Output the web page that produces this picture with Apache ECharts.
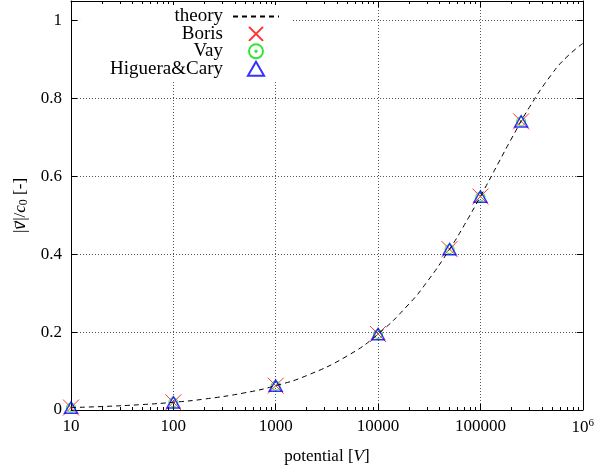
<!DOCTYPE html>
<html>
<head>
<meta charset="utf-8">
<script src="https://cdn.jsdelivr.net/npm/echarts@6/dist/echarts.min.js"></script>
<style>
  html,body{margin:0;padding:0;background:#fff;}
  #chart{width:597px;height:472px;}
</style>
</head>
<body>
<div id="chart"></div>
<script>
// measured points (potential in V, v/c0)
var potentials = [10, 100, 1000, 10000, 50000, 100000, 250000];
var boris = [0.0063, 0.0198, 0.0625, 0.195, 0.413, 0.548, 0.741];
var vay = [0.0063, 0.0198, 0.0625, 0.195, 0.413, 0.548, 0.741];
var higueraCary = [0.0063, 0.0198, 0.0625, 0.195, 0.413, 0.548, 0.741];

// theory curve
var theoryV = [10, 20, 50, 100, 200, 500, 1000, 2000, 5000, 10000, 20000, 30000, 50000, 70000, 100000, 150000, 200000, 300000, 500000, 700000, 1000000];
var theoryBeta = [0.0063, 0.0089, 0.014, 0.0198, 0.028, 0.0442, 0.0625, 0.0882, 0.1389, 0.195, 0.2719, 0.3284, 0.4127, 0.4759, 0.5482, 0.6343, 0.6953, 0.7765, 0.8629, 0.9066, 0.941];

var minorTicks = [];
for (var d = 10; d < 1000000; d *= 10) {
  for (var k = 2; k <= 9; k++) minorTicks.push(d * k);
}

function pairs(xs, ys) {
  return xs.map(function (x, i) { return [x, ys[i]]; });
}

var font = "'Liberation Serif', 'DejaVu Serif', serif";
var gridStyle = { color: '#555', width: 1, type: [1, 2] };

var myChart = echarts.init(document.getElementById('chart'));
myChart.setOption({
  animation: false,
  textStyle: { fontFamily: font, color: '#000' },
  grid: { left: 71, right: 13, top: 1, bottom: 62 },
  legend: {
    orient: 'vertical',
    align: 'right',
    right: 305,
    top: 5,
    padding: [2, 12, 3, 30],
    backgroundColor: '#fff',
    itemWidth: 46,
    itemHeight: 14,
    itemGap: -1.6,
    textStyle: { fontFamily: font, fontSize: 19, color: '#000', lineHeight: 14, padding: [0, 5, 0, 0] },
    data: [
      { name: 'theory', itemStyle: { opacity: 0 } },
      { name: 'Boris' },
      { name: 'Vay' },
      { name: 'Higuera&Cary' }
    ]
  },
  xAxis: [{
    type: 'log', min: 10, max: 1000000, logBase: 10,
    name: '{n|potential [}{i|V}{n|]}',
    nameLocation: 'middle', nameGap: 38,
    nameTextStyle: { rich: {
      n: { fontFamily: font, fontSize: 17, color: '#000' },
      i: { fontFamily: font, fontSize: 17, fontStyle: 'italic', color: '#000' }
    } },
    axisLine: { lineStyle: { color: '#000', width: 1 } },
    axisTick: { inside: true, length: 6, lineStyle: { color: '#000' } },
    axisLabel: {
      margin: 8, fontSize: 17, color: '#000', fontFamily: font,
      formatter: function (v) { return v === 1000000 ? '{b|10}{s|6}' : '{b|' + v + '}'; },
      rich: {
        b: { fontSize: 17, fontFamily: font, color: '#000' },
        s: { fontSize: 11, fontFamily: font, color: '#000', padding: [0, 0, 9, 0] }
      }
    },
    splitLine: { show: true, lineStyle: gridStyle }
  }, {
    type: 'log', min: 10, max: 1000000, logBase: 10, position: 'bottom',
    axisLine: { show: false },
    axisTick: { inside: true, length: 3, customValues: minorTicks, lineStyle: { color: '#000' } },
    axisLabel: { show: false },
    splitLine: { show: false }
  }, {
    type: 'log', min: 10, max: 1000000, logBase: 10, position: 'top',
    axisLine: { lineStyle: { color: '#000', width: 1 } },
    axisTick: { inside: true, length: 6, lineStyle: { color: '#000' } },
    axisLabel: { show: false },
    splitLine: { show: false }
  }, {
    type: 'log', min: 10, max: 1000000, logBase: 10, position: 'top',
    axisLine: { show: false },
    axisTick: { inside: true, length: 3, customValues: minorTicks, lineStyle: { color: '#000' } },
    axisLabel: { show: false },
    splitLine: { show: false }
  }],
  yAxis: [{
    type: 'value', min: 0, max: 1.05, interval: 0.2,
    name: '{n||}{v|v⃗}{n||/}{i|c}{s|0}{n| [-]}',
    nameLocation: 'middle', nameGap: 40, nameRotate: 90,
    nameTextStyle: { rich: {
      n: { fontFamily: font, fontSize: 17, color: '#000' },
      v: { fontFamily: "'DejaVu Sans', sans-serif", fontSize: 15, fontStyle: 'italic', color: '#000' },
      i: { fontFamily: font, fontSize: 17, fontStyle: 'italic', color: '#000' },
      s: { fontFamily: font, fontSize: 12, color: '#000', padding: [6, 0, 0, 0] }
    } },
    axisLine: { show: true, lineStyle: { color: '#000', width: 1 } },
    axisTick: { show: true, inside: true, length: 6, lineStyle: { color: '#000' } },
    axisLabel: { margin: 9, fontSize: 17, color: '#000', fontFamily: font, showMaxLabel: false },
    splitLine: { show: true, lineStyle: gridStyle }
  }, {
    type: 'value', min: 0, max: 1.05, interval: 0.2, position: 'right',
    axisLine: { show: true, lineStyle: { color: '#000', width: 1 } },
    axisTick: { show: true, inside: true, length: 6, lineStyle: { color: '#000' } },
    axisLabel: { show: false },
    splitLine: { show: false }
  }],
  series: [{
    name: 'theory',
    type: 'line',
    symbol: 'none',
    smooth: true,
    data: pairs(theoryV, theoryBeta),
    lineStyle: { color: '#000', width: 1, type: [5, 4] },
    itemStyle: { color: '#000' }
  }, {
    name: 'Boris',
    type: 'scatter',
    symbol: 'path://M0,0L10,10M10,0L0,10',
    symbolSize: 16,
    symbolKeepAspect: true,
    data: pairs(potentials, boris),
    itemStyle: { color: 'rgba(0,0,0,0)', borderColor: '#ff0000', borderWidth: 1 }
  }, {
    name: 'Vay',
    type: 'scatter',
    symbol: 'path://M0,5A5,5 0 1,1 10,5A5,5 0 1,1 0,5Z M4.5,5A0.5,0.5 0 1,1 5.5,5A0.5,0.5 0 1,1 4.5,5Z',
    symbolSize: 9,
    symbolKeepAspect: true,
    data: pairs(potentials, vay),
    itemStyle: { color: 'rgba(0,0,0,0)', borderColor: '#00dd00', borderWidth: 1 }
  }, {
    name: 'Higuera&Cary',
    type: 'scatter',
    symbol: 'path://M5,0L10,8.66L0,8.66Z',
    symbolSize: 13,
    symbolKeepAspect: true,
    data: pairs(potentials, higueraCary),
    itemStyle: { color: 'rgba(0,0,0,0)', borderColor: '#0000ff', borderWidth: 1.5 }
  }]
});
</script>
</body>
</html>
